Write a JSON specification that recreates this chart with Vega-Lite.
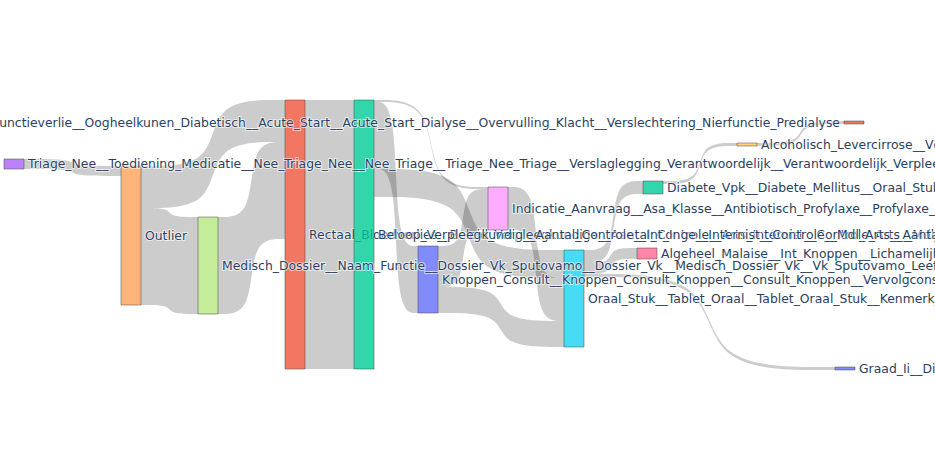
{
  "$schema": "https://vega.github.io/schema/vega-lite/v6.json",
  "description": "Sankey diagram of clinical text-cluster flows (nodes and ribbons drawn from precomputed layout).",
  "width": 935,
  "height": 450,
  "autosize": "none",
  "padding": 0,
  "background": "white",
  "config": {
    "view": {"stroke": null},
    "text": {"font": "DejaVu Sans", "fontSize": 12.4}
  },
  "datasets": {
    "nodes": [
      {"id": "triage", "label": "Triage_Nee__Toediening_Medicatie__Nee_Triage_Nee__Nee_Triage__Triage_Nee_Triage__Verslaglegging_Verantwoordelijk__Verantwoordelijk_Verpleegkundige", "x0": 4, "x1": 24, "y0": 159, "y1": 169},
      {"id": "outlier", "label": "Outlier", "x0": 121, "x1": 141, "y0": 166, "y1": 305},
      {"id": "dossier", "label": "Medisch_Dossier__Naam_Functie__Dossier_Vk_Sputovamo__Dossier_Vk__Medisch_Dossier_Vk__Vk_Sputovamo_Leeftijd", "x0": 198, "x1": 218, "y0": 217, "y1": 314},
      {"id": "rectaal", "label": "Rectaal_Bloedverlies__Beleid_Verpleegkundige__Aantal_Controle__Arts_Internist__Controle_Arts__Mdl_Arts__Aantal_Controle", "x0": 285, "x1": 305, "y0": 100, "y1": 369},
      {"id": "beloop", "label": "Beloop_Verpleegkundig__Aantal_Controle__Int_Inge__Internist__Controle__Mdl_Arts__Aantal_Nierfunctie", "x0": 354, "x1": 374, "y0": 100, "y1": 369},
      {"id": "knoppen", "label": "Knoppen_Consult__Knoppen_Consult_Knoppen__Consult_Knoppen__Vervolgconsult_Knoppen", "x0": 418, "x1": 438, "y0": 246, "y1": 313},
      {"id": "indicatie", "label": "Indicatie_Aanvraag__Asa_Klasse__Antibiotisch_Profylaxe__Profylaxe_Antibiotica", "x0": 488, "x1": 508, "y0": 187, "y1": 230},
      {"id": "oraal", "label": "Oraal_Stuk__Tablet_Oraal__Tablet_Oraal_Stuk__Kenmerk_Tablet", "x0": 564, "x1": 584, "y0": 250, "y1": 347},
      {"id": "diabete", "label": "Diabete_Vpk__Diabete_Mellitus__Oraal_Stuk__Tablet_Diabete", "x0": 643, "x1": 663, "y0": 181, "y1": 194},
      {"id": "algeheel", "label": "Algeheel_Malaise__Int_Knoppen__Lichamelijk_Onderzoek", "x0": 637, "x1": 657, "y0": 248, "y1": 259},
      {"id": "alcoholisch", "label": "Alcoholisch_Levercirrose__Vgl_Levercirrose", "x0": 737, "x1": 757, "y0": 143, "y1": 146},
      {"id": "predialyse", "label": "Nierfunctieverlie__Oogheelkunen_Diabetisch__Acute_Start__Acute_Start_Dialyse__Overvulling_Klacht__Verslechtering_Nierfunctie_Predialyse", "x0": 844, "x1": 864, "y0": 121, "y1": 124},
      {"id": "graad", "label": "Graad_Ii__Diabetische_Retinopathie", "x0": 835, "x1": 855, "y0": 367, "y1": 370}
    ],
    "links": [
      {"link": "triage-outlier", "pt": 0, "lx": 24, "top": 159, "bottom": 169},
      {"link": "triage-outlier", "pt": 1, "lx": 72.5, "top": 159, "bottom": 169},
      {"link": "triage-outlier", "pt": 2, "lx": 72.5, "top": 166, "bottom": 176},
      {"link": "triage-outlier", "pt": 3, "lx": 121, "top": 166, "bottom": 176},
      {"link": "outlier-rectaal", "pt": 0, "lx": 141, "top": 166, "bottom": 208},
      {"link": "outlier-rectaal", "pt": 1, "lx": 213, "top": 166, "bottom": 208},
      {"link": "outlier-rectaal", "pt": 2, "lx": 213, "top": 100, "bottom": 142},
      {"link": "outlier-rectaal", "pt": 3, "lx": 285, "top": 100, "bottom": 142},
      {"link": "outlier-dossier", "pt": 0, "lx": 141, "top": 208, "bottom": 305},
      {"link": "outlier-dossier", "pt": 1, "lx": 169.5, "top": 208, "bottom": 305},
      {"link": "outlier-dossier", "pt": 2, "lx": 169.5, "top": 217, "bottom": 314},
      {"link": "outlier-dossier", "pt": 3, "lx": 198, "top": 217, "bottom": 314},
      {"link": "dossier-rectaal", "pt": 0, "lx": 218, "top": 217, "bottom": 314},
      {"link": "dossier-rectaal", "pt": 1, "lx": 251.5, "top": 217, "bottom": 314},
      {"link": "dossier-rectaal", "pt": 2, "lx": 251.5, "top": 142, "bottom": 239},
      {"link": "dossier-rectaal", "pt": 3, "lx": 285, "top": 142, "bottom": 239},
      {"link": "rectaal-beloop", "pt": 0, "lx": 305, "top": 100, "bottom": 369},
      {"link": "rectaal-beloop", "pt": 1, "lx": 329.5, "top": 100, "bottom": 369},
      {"link": "rectaal-beloop", "pt": 2, "lx": 329.5, "top": 100, "bottom": 369},
      {"link": "rectaal-beloop", "pt": 3, "lx": 354, "top": 100, "bottom": 369},
      {"link": "beloop-indicatie", "pt": 0, "lx": 374, "top": 100, "bottom": 102},
      {"link": "beloop-indicatie", "pt": 1, "lx": 431, "top": 100, "bottom": 102},
      {"link": "beloop-indicatie", "pt": 2, "lx": 431, "top": 187, "bottom": 189},
      {"link": "beloop-indicatie", "pt": 3, "lx": 488, "top": 187, "bottom": 189},
      {"link": "beloop-knoppen", "pt": 0, "lx": 374, "top": 102, "bottom": 169},
      {"link": "beloop-knoppen", "pt": 1, "lx": 396, "top": 102, "bottom": 169},
      {"link": "beloop-knoppen", "pt": 2, "lx": 396, "top": 246, "bottom": 313},
      {"link": "beloop-knoppen", "pt": 3, "lx": 418, "top": 246, "bottom": 313},
      {"link": "beloop-oraal", "pt": 0, "lx": 374, "top": 169, "bottom": 197},
      {"link": "beloop-oraal", "pt": 1, "lx": 469, "top": 169, "bottom": 197},
      {"link": "beloop-oraal", "pt": 2, "lx": 469, "top": 250, "bottom": 278},
      {"link": "beloop-oraal", "pt": 3, "lx": 564, "top": 250, "bottom": 278},
      {"link": "knoppen-indicatie", "pt": 0, "lx": 438, "top": 246, "bottom": 287},
      {"link": "knoppen-indicatie", "pt": 1, "lx": 463, "top": 246, "bottom": 287},
      {"link": "knoppen-indicatie", "pt": 2, "lx": 463, "top": 189, "bottom": 230},
      {"link": "knoppen-indicatie", "pt": 3, "lx": 488, "top": 189, "bottom": 230},
      {"link": "indicatie-oraal", "pt": 0, "lx": 508, "top": 187, "bottom": 230},
      {"link": "indicatie-oraal", "pt": 1, "lx": 536, "top": 187, "bottom": 230},
      {"link": "indicatie-oraal", "pt": 2, "lx": 536, "top": 278, "bottom": 321},
      {"link": "indicatie-oraal", "pt": 3, "lx": 564, "top": 278, "bottom": 321},
      {"link": "knoppen-oraal", "pt": 0, "lx": 438, "top": 287, "bottom": 313},
      {"link": "knoppen-oraal", "pt": 1, "lx": 501, "top": 287, "bottom": 313},
      {"link": "knoppen-oraal", "pt": 2, "lx": 501, "top": 321, "bottom": 347},
      {"link": "knoppen-oraal", "pt": 3, "lx": 564, "top": 321, "bottom": 347},
      {"link": "oraal-diabete", "pt": 0, "lx": 584, "top": 250, "bottom": 263},
      {"link": "oraal-diabete", "pt": 1, "lx": 613.5, "top": 250, "bottom": 263},
      {"link": "oraal-diabete", "pt": 2, "lx": 613.5, "top": 181, "bottom": 194},
      {"link": "oraal-diabete", "pt": 3, "lx": 643, "top": 181, "bottom": 194},
      {"link": "oraal-algeheel", "pt": 0, "lx": 584, "top": 263, "bottom": 274},
      {"link": "oraal-algeheel", "pt": 1, "lx": 610.5, "top": 263, "bottom": 274},
      {"link": "oraal-algeheel", "pt": 2, "lx": 610.5, "top": 248, "bottom": 259},
      {"link": "oraal-algeheel", "pt": 3, "lx": 637, "top": 248, "bottom": 259},
      {"link": "oraal-graad", "pt": 0, "lx": 584, "top": 274, "bottom": 277},
      {"link": "oraal-graad", "pt": 1, "lx": 709.5, "top": 274, "bottom": 277},
      {"link": "oraal-graad", "pt": 2, "lx": 709.5, "top": 367, "bottom": 370},
      {"link": "oraal-graad", "pt": 3, "lx": 835, "top": 367, "bottom": 370},
      {"link": "diabete-alcoholisch", "pt": 0, "lx": 663, "top": 181, "bottom": 184},
      {"link": "diabete-alcoholisch", "pt": 1, "lx": 700, "top": 181, "bottom": 184},
      {"link": "diabete-alcoholisch", "pt": 2, "lx": 700, "top": 143, "bottom": 146},
      {"link": "diabete-alcoholisch", "pt": 3, "lx": 737, "top": 143, "bottom": 146},
      {"link": "alcoholisch-predialyse", "pt": 0, "lx": 757, "top": 143, "bottom": 146},
      {"link": "alcoholisch-predialyse", "pt": 1, "lx": 800.5, "top": 143, "bottom": 146},
      {"link": "alcoholisch-predialyse", "pt": 2, "lx": 800.5, "top": 121, "bottom": 124},
      {"link": "alcoholisch-predialyse", "pt": 3, "lx": 844, "top": 121, "bottom": 124}
    ]
  },
  "layer": [
    {
      "data": {"name": "links"},
      "mark": {"type": "area", "interpolate": "basis", "orient": "vertical", "fill": "#000000", "fillOpacity": 0.2},
      "encoding": {
        "x": {"field": "lx", "type": "quantitative", "scale": {"domain": [0, 935], "nice": false, "zero": false}, "axis": null},
        "y": {"field": "top", "type": "quantitative", "stack": null, "scale": {"domain": [0, 450], "reverse": true, "nice": false, "zero": false}, "axis": null},
        "y2": {"field": "bottom"},
        "detail": {"field": "link", "type": "nominal"}
      }
    },
    {
      "data": {"name": "nodes"},
      "transform": [
        {"filter": "datum.id === 'rectaal'"},
        {"fold": ["y0", "y1"], "as": ["edge", "pos"]},
        {"aggregate": [{"op": "mean", "field": "pos", "as": "ymid"}], "groupby": ["id", "label", "x0", "x1", "y0", "y1"]}
      ],
      "layer": [
        {
          "mark": {"type": "rect", "stroke": "#444444", "strokeWidth": 0.5, "fillOpacity": 0.8},
          "encoding": {
            "x": {"field": "x0", "type": "quantitative", "axis": null},
            "x2": {"field": "x1"},
            "y": {"field": "y0", "type": "quantitative", "axis": null},
            "y2": {"field": "y1"},
            "color": {
              "field": "id", "type": "nominal", "legend": null,
              "scale": {
                "domain": ["triage", "outlier", "dossier", "rectaal", "beloop", "knoppen", "indicatie", "oraal", "diabete", "algeheel", "alcoholisch", "predialyse", "graad"],
                "range": ["#AB63FA", "#FFA15A", "#B6E880", "#EF553B", "#00CC96", "#636EFA", "#FF97FF", "#19D3F3", "#00CC96", "#FF6692", "#FECB52", "#EF553B", "#636EFA"]
              }
            }
          }
        },
        {
          "mark": {"type": "text", "align": "left", "baseline": "middle", "dx": 4, "fill": "white", "stroke": "white", "strokeWidth": 2, "strokeOpacity": 0.6},
          "encoding": {
            "x": {"field": "x1", "type": "quantitative", "axis": null},
            "y": {"field": "ymid", "type": "quantitative", "axis": null},
            "text": {"field": "label"}
          }
        },
        {
          "mark": {"type": "text", "align": "left", "baseline": "middle", "dx": 4, "fill": "#2a3f5f"},
          "encoding": {
            "x": {"field": "x1", "type": "quantitative", "axis": null},
            "y": {"field": "ymid", "type": "quantitative", "axis": null},
            "text": {"field": "label"}
          }
        }
      ]
    },
    {
      "data": {"name": "nodes"},
      "transform": [{"filter": "datum.id !== 'rectaal'"}],
      "mark": {"type": "rect", "stroke": "#444444", "strokeWidth": 0.5, "fillOpacity": 0.8},
      "encoding": {
        "x": {"field": "x0", "type": "quantitative", "axis": null},
        "x2": {"field": "x1"},
        "y": {"field": "y0", "type": "quantitative", "axis": null},
        "y2": {"field": "y1"},
        "color": {
          "field": "id", "type": "nominal", "legend": null,
          "scale": {
            "domain": ["triage", "outlier", "dossier", "rectaal", "beloop", "knoppen", "indicatie", "oraal", "diabete", "algeheel", "alcoholisch", "predialyse", "graad"],
            "range": ["#AB63FA", "#FFA15A", "#B6E880", "#EF553B", "#00CC96", "#636EFA", "#FF97FF", "#19D3F3", "#00CC96", "#FF6692", "#FECB52", "#EF553B", "#636EFA"]
          }
        }
      }
    },
    {
      "data": {"name": "nodes"},
      "transform": [
        {"filter": "datum.id !== 'rectaal' && datum.id !== 'predialyse'"},
        {"fold": ["y0", "y1"], "as": ["edge", "pos"]},
        {"aggregate": [{"op": "mean", "field": "pos", "as": "ymid"}], "groupby": ["id", "label", "x0", "x1"]}
      ],
      "layer": [
        {
          "mark": {"type": "text", "align": "left", "baseline": "middle", "dx": 4, "fill": "white", "stroke": "white", "strokeWidth": 2, "strokeOpacity": 0.6},
          "encoding": {
            "x": {"field": "x1", "type": "quantitative", "axis": null},
            "y": {"field": "ymid", "type": "quantitative", "axis": null},
            "text": {"field": "label"}
          }
        },
        {
          "mark": {"type": "text", "align": "left", "baseline": "middle", "dx": 4, "fill": "#2a3f5f"},
          "encoding": {
            "x": {"field": "x1", "type": "quantitative", "axis": null},
            "y": {"field": "ymid", "type": "quantitative", "axis": null},
            "text": {"field": "label"}
          }
        }
      ]
    },
    {
      "data": {"name": "nodes"},
      "transform": [
        {"filter": "datum.id === 'predialyse'"},
        {"fold": ["y0", "y1"], "as": ["edge", "pos"]},
        {"aggregate": [{"op": "mean", "field": "pos", "as": "ymid"}], "groupby": ["id", "label", "x0", "x1"]}
      ],
      "layer": [
        {
          "mark": {"type": "text", "align": "right", "baseline": "middle", "dx": -4, "fill": "white", "stroke": "white", "strokeWidth": 2, "strokeOpacity": 0.6},
          "encoding": {
            "x": {"field": "x0", "type": "quantitative", "axis": null},
            "y": {"field": "ymid", "type": "quantitative", "axis": null},
            "text": {"field": "label"}
          }
        },
        {
          "mark": {"type": "text", "align": "right", "baseline": "middle", "dx": -4, "fill": "#2a3f5f"},
          "encoding": {
            "x": {"field": "x0", "type": "quantitative", "axis": null},
            "y": {"field": "ymid", "type": "quantitative", "axis": null},
            "text": {"field": "label"}
          }
        }
      ]
    }
  ]
}
